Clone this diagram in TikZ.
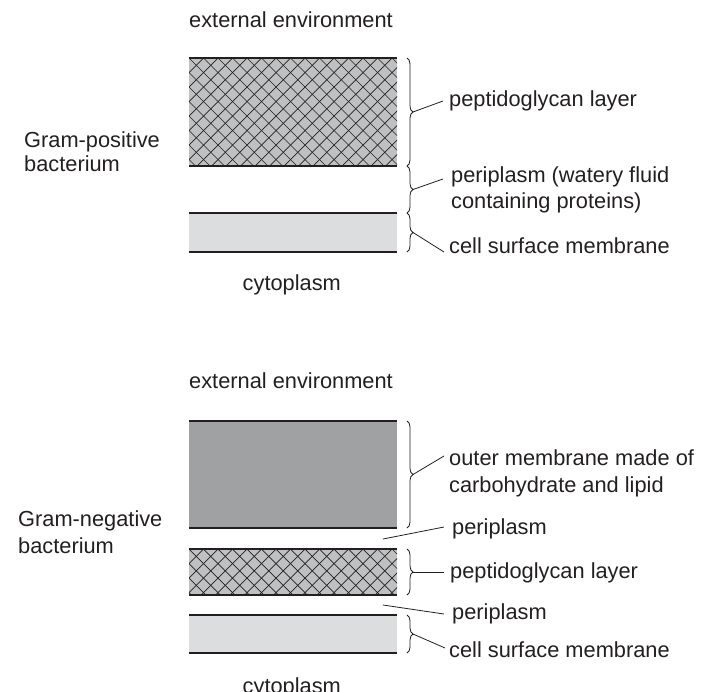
\documentclass[tikz,border=0pt]{standalone}
\usepackage{fontspec}
\setmainfont{Liberation Sans}
\usetikzlibrary{decorations.pathreplacing}
\definecolor{ink}{HTML}{231F20}
\definecolor{hatchfill}{HTML}{BFC0C2}
\definecolor{memfill}{HTML}{DCDDDE}
\definecolor{outerfill}{HTML}{A0A1A3}
\newcommand{\xhatchbox}[4]{%
  \fill[hatchfill] (#1,#2) rectangle (#3,#4);
  \begin{scope}
    \clip (#1,#2) rectangle (#3,#4);
    \foreach \k in {-10,...,25} {
      \draw[hatchline] (#1+\k*14.5,#2) -- ++(145,145);
      \draw[hatchline] (#1+\k*14.5,#2) -- ++(-145,145);
    }
  \end{scope}
  \draw[edge] (#1,#2) -- (#3,#2);
  \draw[edge] (#1,#4) -- (#3,#4);
}
\begin{document}
\begin{tikzpicture}[x=1pt,y=-1pt,
  font=\fontsize{21.8}{26}\selectfont,
  lbl/.style={anchor=base west, inner sep=0pt, text=ink, align=left},
  edge/.style={draw=ink, line width=2pt},
  hatchline/.style={draw=ink, line width=0.7pt},
  bracey/.style={draw=ink, line width=0.8pt, decorate, decoration={brace, amplitude=6pt}},
  leader/.style={draw=ink, line width=0.8pt}]
\useasboundingbox (0,0) rectangle (714,691);

% ---------------- Gram-positive ----------------
\node[lbl] (extA) at (189,27) {external environment};
\node[lbl] (gp) at (24,171) {Gram-positive\\[-2pt]bacterium};
\node[lbl] (cytA) at (242.5,290.7) {cytoplasm};

\xhatchbox{189}{58}{397}{166}
\fill[memfill] (189,213) rectangle (397,252);
\draw[edge] (189,213) -- (397,213);
\draw[edge] (189,252) -- (397,252);

\coordinate (a0) at (407,58);
\coordinate (a1) at (407,166);
\coordinate (a2) at (407,213);
\coordinate (a3) at (407,252);
\draw[bracey] (a0) -- (a1);
\draw[bracey] (a1) -- (a2);
\draw[bracey] (a2) -- (a3);
\coordinate (ta1) at (413,112);
\coordinate (ta2) at (413,189.5);
\coordinate (ta3) at (413,232.5);

\node[lbl] (pepA) at (449,106) {peptidoglycan layer};
\node[lbl] (periA) at (451,208) {periplasm (watery fluid\\containing proteins)};
\node[lbl] (cellA) at (449,253) {cell surface membrane};

\coordinate (ea1) at (443,101);
\coordinate (ea2) at (443,179);
\coordinate (ea3) at (444,252);
\draw[leader] (ta1) -- (ea1);
\draw[leader] (ta2) -- (ea2);
\draw[leader] (ta3) -- (ea3);

% ---------------- Gram-negative ----------------
\node[lbl] (extB) at (189,388.3) {external environment};
\node[lbl] (gn) at (18,553) {Gram-negative\\[1pt]bacterium};
\node[lbl] (cytB) at (242.5,693.3) {cytoplasm};

\fill[outerfill] (189,421) rectangle (397,528);
\draw[edge] (189,421) -- (397,421);
\draw[edge] (189,528) -- (397,528);
\xhatchbox{189}{549}{397}{595}
\fill[memfill] (189,615) rectangle (397,653);
\draw[edge] (189,615) -- (397,615);
\draw[edge] (189,653) -- (397,653);

\coordinate (b0) at (407,421);
\coordinate (b1) at (407,528);
\coordinate (b2) at (407,549);
\coordinate (b3) at (407,595);
\coordinate (b4) at (407,615);
\coordinate (b5) at (407,653);
\draw[bracey] (b0) -- (b1);
\draw[bracey] (b2) -- (b3);
\draw[bracey] (b4) -- (b5);
\coordinate (tb1) at (413,474.5);
\coordinate (tb2) at (413,572);
\coordinate (tb3) at (413,634);
\coordinate (pb1) at (383,539);
\coordinate (pb2) at (383,605);

\node[lbl] (outB) at (449,492) {outer membrane made of\\[1pt]carbohydrate and lipid};
\node[lbl] (periB1) at (452,534) {periplasm};
\node[lbl] (pepB) at (450,578) {peptidoglycan layer};
\node[lbl] (periB2) at (452,619) {periplasm};
\node[lbl] (cellB) at (449,657) {cell surface membrane};

\coordinate (eb1) at (444,456);
\coordinate (eb2) at (444,527);
\coordinate (eb3) at (444,572);
\coordinate (eb4) at (444,614);
\coordinate (eb5) at (445,648);
\draw[leader] (tb1) -- (eb1);
\draw[leader] (pb1) -- (eb2);
\draw[leader] (tb2) -- (eb3);
\draw[leader] (pb2) -- (eb4);
\draw[leader] (tb3) -- (eb5);
\end{tikzpicture}
\end{document}
